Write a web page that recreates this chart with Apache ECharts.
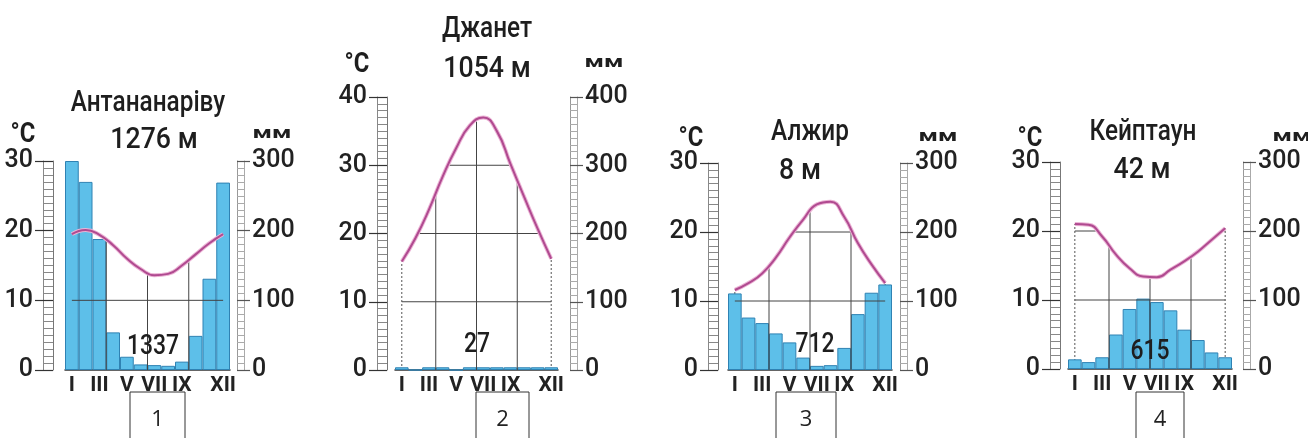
<!DOCTYPE html>
<html><head><meta charset="utf-8">
<script src="https://cdn.jsdelivr.net/npm/echarts@6/dist/echarts.min.js"></script>
<style>html,body{margin:0;padding:0;background:#fff}#c{width:1308px;height:438px}</style>
</head><body><div id="c"></div><script>
// ---------- data ----------
const months = ['I','II','III','IV','V','VI','VII','VIII','IX','X','XI','XII'];
const monthLabels = ['I','','III','','V','','VII','','IX','','','XII'];
const stations = ['Антананаріву','Джанет','Алжир','Кейптаун'];
const altitudes = ['1276 м','1054 м','8 м','42 м'];
const annualTotals = ['1337','27','712','615'];
const panelNumbers = ['1','2','3','4'];
const tempAxisMax = [30, 40, 30, 30];
const precipAxisMax = [300, 400, 300, 300];
const tempUnit = '°C';
const precipUnit = 'мм';

const precipAntananarivo = [300, 270, 188, 54, 19, 8, 7, 6, 12, 49, 131, 269];
const tempAntananarivo   = [19.5, 20.1, 19.4, 17.9, 16.0, 14.5, 13.6, 13.8, 15.0, 16.6, 18.2, 19.5];
const precipDjanet = [4, 0, 4, 4, 0, 4, 4, 4, 4, 4, 4, 4];
const tempDjanet   = [15.9, 19.3, 23.5, 28.3, 32.5, 35.8, 37.0, 35.0, 30.2, 25.4, 20.7, 16.3];
const precipAlgiers = [111, 76, 68, 53, 40, 18, 6, 7, 32, 81, 112, 124];
const tempAlgiers   = [11.6, 12.6, 14.0, 16.3, 19.2, 21.8, 24.0, 24.4, 22.2, 18.4, 15.3, 12.6];
const precipCapeTown = [14, 10, 17, 50, 87, 102, 97, 85, 57, 42, 24, 17];
const tempCapeTown   = [21.0, 20.9, 19.2, 16.6, 14.6, 13.4, 13.3, 14.4, 15.6, 17.0, 18.7, 20.4];

const precipSeries = [precipAntananarivo, precipDjanet, precipAlgiers, precipCapeTown];
const tempSeries = [tempAntananarivo, tempDjanet, tempAlgiers, tempCapeTown];

// ---------- layout ----------
const FONT = "Roboto,'Liberation Sans',sans-serif";
const layout = [
  {l:65,  r:230,  t:161, b:370, lOff:12, rOff:7,  title:[148,104], alt:[154,141], total:[153,347], degC:[23,135], mm:[272,134], box:[130,185]},
  {l:395, r:558,  t:97,  b:370, lOff:8,  rOff:12, title:[487,30],  alt:[487,70],  total:[477,345], degC:[357,65], mm:[604,63],  box:[476,529]},
  {l:728, r:892,  t:163, b:370, lOff:10, rOff:8,  title:[810,133], alt:[800,172], total:[815,345], degC:[691,139],mm:[938,137], box:[776,836]},
  {l:1068,r:1232, t:162, b:369, lOff:8,  rOff:11, title:[1143,133],alt:[1142,171],total:[1150,352],degC:[1030,139],mm:[1292,137],box:[1136,1184]}
];

const chart = echarts.init(document.getElementById('c'));
const grids = [], xAxes = [], yAxes = [], series = [], graphic = [];

function gridRenderer(temps, dotted) {
  return function (params, api) {
    const xs = temps.map((t, i) => api.coord([i, 0])[0]);
    const y0 = api.coord([0, 0])[1];
    const children = [];
    const ls = {stroke: '#444', lineWidth: 1};
    if (dotted) {
      [0, temps.length - 1].forEach(i => {
        const p = api.coord([i, temps[i]]);
        children.push({type: 'line', shape: {x1: p[0], y1: y0, x2: p[0], y2: p[1]},
          style: {stroke: '#555', lineWidth: 1, lineDash: [2, 2]}});
      });
      return {type: 'group', children};
    }
    [3, 6, 9].forEach(b => {
      const t = (temps[b - 1] + temps[b]) / 2;
      const x = (xs[b - 1] + xs[b]) / 2;
      const y = api.coord([b, t])[1];
      children.push({type: 'line', shape: {x1: x, y1: y0, x2: x, y2: y}, style: ls});
    });
    const step = xs[1] - xs[0];
    for (let L = 10; L < 40; L += 10) {
      const yL = api.coord([0, L])[1];
      let start = null;
      const N = (temps.length - 1) * 40;
      for (let k = 0; k <= N; k++) {
        const s = k / 40;
        const i = Math.min(Math.floor(s), temps.length - 2);
        const f = s - i;
        const t = temps[i] * (1 - f) + temps[i + 1] * f;
        if (t >= L && start === null) start = s;
        if ((t < L || k === N) && start !== null) {
          const end = t < L ? s - 1 / 40 : s;
          if (end > start) children.push({type: 'line',
            shape: {x1: xs[0] + start * step, y1: yL, x2: xs[0] + end * step, y2: yL}, style: ls});
          start = null;
        }
      }
    }
    return {type: 'group', children};
  };
}

layout.forEach((g, k) => {
  grids.push({left: g.l, top: g.t, width: g.r - g.l, height: g.b - g.t, containLabel: false});
  xAxes.push({type: 'category', gridIndex: k, data: months, boundaryGap: true,
    axisLine: {show: true, lineStyle: {color: '#333', width: 1.5}},
    axisTick: {show: false},
    axisLabel: {interval: 0, formatter: (v, i) => monthLabels[i], margin: 5,
      fontFamily: FONT, fontSize: 21, fontWeight: 'bold', color: '#222'},
    splitLine: {show: false}});
  const tMax = tempAxisMax[k], pMax = precipAxisMax[k];
  yAxes.push({type: 'value', gridIndex: k, position: 'left', offset: g.lOff, min: 0, max: tMax, interval: 10,
    axisLine: {show: true, lineStyle: {color: '#777', width: 1}},
    axisTick: {show: true, length: 18, lineStyle: {color: '#333', width: 1.2}},
    minorTick: {show: true, splitNumber: 10, length: 10, lineStyle: {color: '#888', width: 1}},
    axisLabel: {margin: 20, fontFamily: FONT, fontSize: 25, fontWeight: 500, color: '#222'},
    splitLine: {show: false}});
  yAxes.push({type: 'value', gridIndex: k, position: 'left', offset: g.lOff + 10, min: 0, max: tMax, interval: 10,
    axisLine: {show: true, lineStyle: {color: '#888', width: 1}},
    axisTick: {show: false}, axisLabel: {show: false}, splitLine: {show: false}});
  yAxes.push({type: 'value', gridIndex: k, position: 'right', offset: g.rOff, min: 0, max: pMax, interval: 100,
    axisLine: {show: true, lineStyle: {color: '#999', width: 1}},
    axisTick: {show: true, length: 13, lineStyle: {color: '#555', width: 1.2}},
    minorTick: {show: true, splitNumber: 10, length: 7, lineStyle: {color: '#aaa', width: 1}},
    axisLabel: {margin: 15, fontFamily: FONT, fontSize: 25, fontWeight: 500, color: '#222'},
    splitLine: {show: false}});
  yAxes.push({type: 'value', gridIndex: k, position: 'right', offset: g.rOff + 7, min: 0, max: pMax, interval: 100,
    axisLine: {show: true, lineStyle: {color: '#aaa', width: 1}},
    axisTick: {show: false}, axisLabel: {show: false}, splitLine: {show: false}});

  const temps = tempSeries[k];
  series.push({type: 'custom', xAxisIndex: k, yAxisIndex: 4 * k, z: 1, silent: true,
    renderItem: gridRenderer(temps, true), data: [[0, 0]]});
  series.push({type: 'bar', xAxisIndex: k, yAxisIndex: 4 * k + 2, z: 2, barCategoryGap: '0%',
    itemStyle: {color: '#5dbfe9', borderColor: '#2f82b3', borderWidth: 1}, data: precipSeries[k]});
  series.push({type: 'custom', xAxisIndex: k, yAxisIndex: 4 * k, z: 3, silent: true,
    renderItem: gridRenderer(temps, false), data: [[0, 0]]});
  series.push({type: 'line', xAxisIndex: k, yAxisIndex: 4 * k, z: 4, smooth: true, symbol: 'none',
    lineStyle: {color: '#ebb3d5', width: 4}, data: temps});
  series.push({type: 'line', xAxisIndex: k, yAxisIndex: 4 * k, z: 5, smooth: true, symbol: 'none',
    lineStyle: {color: '#b04a90', width: 2}, data: temps});

  const txt = (pos, text, size, sx, extra) => graphic.push({type: 'text', x: pos[0], y: pos[1], z: 10, scaleX: sx,
    style: Object.assign({text, fontFamily: FONT, fontSize: size, fontWeight: 500, fill: '#1e1e1e', align: 'center', verticalAlign: 'middle'}, extra || {})});
  txt(g.title, stations[k], 29, 0.84);
  txt(g.alt, altitudes[k], 29, 0.92);
  txt(g.total, annualTotals[k], 27, 0.85);
  txt(g.degC, tempUnit, 28, 0.85, {fontWeight: 'bold'});
  txt(g.mm, precipUnit, 16, 1.6, {fontWeight: 'bold'});
  graphic.push({type: 'rect', z: 10, shape: {x: g.box[0], y: 392, width: g.box[1] - g.box[0], height: 60},
    style: {fill: '#fff', stroke: '#333', lineWidth: 1}});
  graphic.push({type: 'text', z: 11, x: (g.box[0] + g.box[1]) / 2, y: 420,
    style: {text: panelNumbers[k], fontFamily: "'Open Sans','Noto Sans',sans-serif", fontSize: 22, fill: '#222', align: 'center', verticalAlign: 'middle'}});
});

chart.setOption({
  backgroundColor: '#fff',
  animation: false,
  grid: grids, xAxis: xAxes, yAxis: yAxes, series, graphic
});
</script></body></html>
